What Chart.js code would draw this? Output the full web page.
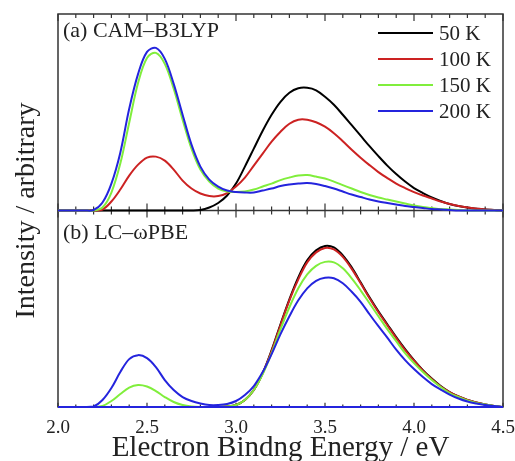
<!DOCTYPE html>
<html>
<head>
<meta charset="utf-8">
<script src="https://cdn.jsdelivr.net/npm/chart.js@4"></script>
<style>
  html, body { margin: 0; padding: 0; background: #fff; }
</style>
</head>
<body>
<canvas id="chart" width="515" height="461"></canvas>
<script>
// binding energy grid (eV)
const energy = [
  2.00, 2.05, 2.10, 2.15, 2.20, 2.25, 2.30, 2.35, 2.40, 2.45,
  2.50, 2.55, 2.60, 2.65, 2.70, 2.75, 2.80, 2.85, 2.90, 2.95,
  3.00, 3.05, 3.10, 3.15, 3.20, 3.25, 3.30, 3.35, 3.40, 3.45,
  3.50, 3.55, 3.60, 3.65, 3.70, 3.75, 3.80, 3.85, 3.90, 3.95,
  4.00, 4.05, 4.10, 4.15, 4.20, 4.25, 4.30, 4.35, 4.40, 4.45, 4.50
];

const temps = ["50 K", "100 K", "150 K", "200 K"];
const colors = ["#000000", "#cc2222", "#80ee3c", "#2424dd"];

// (a) CAM-B3LYP
const camK50 = [
  0, 0, 0, 0, 0, 0, 0, 0, 0, 0,
  0, 0, 0, 0, 0, 0, 0.5, 3, 7.5, 15,
  27, 44, 62, 80, 96, 109, 118, 122.5, 123, 120.5,
  114, 106, 96, 85.5, 75, 64.5, 54.5, 45, 36.5, 29,
  22.5, 17.5, 13, 9.5, 6.5, 4.5, 3, 1.8, 1, 0.4, 0
];
const camK100 = [
  0, 0, 0, 0, 0, 1, 9, 21, 35, 46,
  53, 54, 50, 41, 30, 22, 17, 14.5, 14.5, 17.5,
  24, 33, 45, 57, 69, 79, 87, 91, 91, 88.5,
  84, 77.5, 69.5, 61, 53, 45.5, 38.5, 32.5, 27, 22.5,
  18.5, 15, 12, 9, 6.5, 4.5, 3, 2, 1, 0.5, 0
];
const camK150 = [
  0, 0, 0, 0, 0, 3, 18, 47, 88, 128,
  153, 158, 147, 122, 91, 62, 41, 29, 22, 19,
  18.5, 19, 21, 24, 27, 30.5, 33, 35, 35.5, 34,
  32, 29, 25.5, 22, 18.5, 15.5, 13, 11, 9, 7,
  5, 3.5, 2.5, 1.5, 1, 0.5, 0, 0, 0, 0, 0
];
const camK200 = [
  0, 0, 0, 0, 0.5, 8, 27, 58, 102, 137,
  159, 163, 152, 127, 96, 66, 44, 31, 24, 20,
  18.5, 18, 18, 20, 22, 24.5, 26, 27, 27.5, 26.5,
  24.5, 22, 19, 16, 13.5, 11, 9, 7.5, 6, 4.5,
  3.5, 2.5, 1.5, 1, 0.5, 0, 0, 0, 0, 0, 0
];

// (b) LC-wPBE
const lcK50 = [
  0, 0, 0, 0, 0, 0, 0, 0, 0, 0,
  0, 0, 0, 0, 0, 0, 0, 0, 0, 0.5,
  2, 7, 17, 34, 57, 83, 108, 130, 147, 157,
  161.5, 160, 152, 140, 125, 110, 96, 83, 70, 58,
  47, 37, 28.5, 21, 15, 10.5, 7, 4.5, 2.5, 1, 0
];
const lcK100 = [
  0, 0, 0, 0, 0, 0, 0, 0, 0, 0,
  0, 0, 0, 0, 0, 0, 0, 0, 0, 0.5,
  2, 7, 17, 34, 56, 82, 107, 128, 145, 155,
  159.5, 158, 150.5, 138.5, 124, 109, 95, 82, 69, 57,
  46.5, 36.5, 28, 20.5, 15, 10.5, 7, 4.5, 2.5, 1, 0
];
const lcK150 = [
  0, 0, 0, 0, 0, 1, 6, 13, 19.5, 22,
  20.5, 16, 10, 5, 2, 0.5, 0, 0, 0, 0.5,
  2, 7, 17, 33, 54, 78, 100, 119, 133, 141.5,
  145.5, 145, 139, 129, 117, 104, 91, 78, 66, 54,
  44, 35, 27, 20, 14, 10, 6.5, 4, 2.5, 1, 0
];
const lcK200 = [
  0, 0, 0, 0, 0.5, 7, 19, 35, 48, 52,
  49, 40, 27, 17, 10, 6, 3.5, 2, 2, 3,
  6, 12, 21, 35, 53, 73, 91, 107, 119, 126.5,
  129.5, 129, 124, 115.5, 105.5, 93, 81, 69.5, 57.5, 47,
  38, 30, 23, 17.5, 12.5, 8.5, 5.5, 3.5, 2, 1, 0
];

const xMajorTicks = [2.0, 2.5, 3.0, 3.5, 4.0, 4.5];
const xMinorTicks = [2.1, 2.2, 2.3, 2.4, 2.6, 2.7, 2.8, 2.9, 3.1, 3.2, 3.3, 3.4,
                     3.6, 3.7, 3.8, 3.9, 4.1, 4.2, 4.3, 4.4];

const panelA = [camK50, camK100, camK150, camK200];
const panelB = [lcK50, lcK100, lcK150, lcK200];

const FONT = "'Liberation Serif', 'DejaVu Serif', serif";

const toPoints = (vals) => vals.map((v, i) => ({ x: energy[i], y: v }));

const datasets = [];
[panelA, panelB].forEach((panel, p) => {
    panel.forEach((vals, i) => {
        datasets.push({
            label: temps[i],
            data: toPoints(vals),
            yAxisID: p === 0 ? "ya" : "yb",
            borderColor: colors[i],
            backgroundColor: colors[i],
            borderWidth: 2,
            pointRadius: 0,
            fill: false,
            tension: 0.35,
            clip: 4,
            order: 3 - i // blue on top, black underneath
        });
    });
});

// frame, inward ticks, middle divider, labels
const framePlugin = {
    id: "frame",
    beforeDatasetsDraw(chart) {
        const { ctx, chartArea: a, scales } = chart;
        const mid = scales.ya.bottom;
        ctx.save();
        ctx.strokeStyle = "#333";
        ctx.lineWidth = 1.5;
        ctx.strokeRect(a.left, a.top, a.right - a.left, a.bottom - a.top);
        ctx.beginPath();
        ctx.moveTo(a.left, mid);
        ctx.lineTo(a.right, mid);
        ctx.stroke();

        ctx.lineWidth = 1.2;
        const tick = (v, len) => {
            const px = scales.x.getPixelForValue(v);
            ctx.beginPath();
            ctx.moveTo(px, a.top); ctx.lineTo(px, a.top + len);
            ctx.moveTo(px, mid - len); ctx.lineTo(px, mid + len);
            ctx.moveTo(px, a.bottom); ctx.lineTo(px, a.bottom - len * 0.6);
            ctx.stroke();
        };
        xMajorTicks.forEach(v => tick(v, 7));
        xMinorTicks.forEach(v => tick(v, 4));
        ctx.restore();
    },
    afterDatasetsDraw(chart) {
        // bottom axis line shows in the 200 K colour in the original
        const { ctx, chartArea: a } = chart;
        ctx.save();
        ctx.strokeStyle = colors[3];
        ctx.lineWidth = 2;
        ctx.beginPath();
        ctx.moveTo(a.left, a.bottom);
        ctx.lineTo(a.right, a.bottom);
        ctx.stroke();
        ctx.restore();
    },
    afterDraw(chart) {
        const { ctx, chartArea: a, scales } = chart;
        ctx.save();
        ctx.fillStyle = "#222";

        // panel labels
        ctx.font = "22px " + FONT;
        ctx.textAlign = "left";
        ctx.textBaseline = "alphabetic";
        ctx.fillText("(a) CAM\u2013B3LYP", a.left + 5, a.top + 23);
        ctx.fillText("(b) LC\u2013\u03c9PBE", a.left + 5, scales.yb.top + 28);

        // legend
        ctx.font = "21px " + FONT;
        ctx.textBaseline = "middle";
        temps.forEach((t, i) => {
            const y = 33 + i * 26;
            ctx.strokeStyle = colors[i];
            ctx.lineWidth = 2;
            ctx.beginPath();
            ctx.moveTo(378, y);
            ctx.lineTo(433, y);
            ctx.stroke();
            ctx.fillText(t, 439, y + 1);
        });

        // y title
        ctx.translate(27, (a.top + a.bottom) / 2);
        ctx.rotate(-Math.PI / 2);
        ctx.textAlign = "center";
        ctx.textBaseline = "middle";
        ctx.font = "28px " + FONT;
        ctx.fillText("Intensity / arbitrary", 0, 0);
        ctx.restore();
    }
};

const hiddenY = {
    type: "linear",
    stack: "panels",
    stackWeight: 1,
    min: 0,
    max: 197,
    ticks: { display: false },
    grid: { display: false, drawTicks: false },
    border: { display: false }
};

new Chart(document.getElementById("chart"), {
    type: "line",
    data: { datasets },
    options: {
        responsive: false,
        animation: false,
        layout: { padding: { left: 58, right: 12, top: 14, bottom: 0 } },
        plugins: {
            legend: { display: false },
            tooltip: { enabled: false }
        },
        scales: {
            x: {
                type: "linear",
                min: 2.0,
                max: 4.5,
                afterBuildTicks: s => { s.ticks = xMajorTicks.map(v => ({ value: v })); },
                afterFit: s => {
                    s.height = 54;
                    // let the last label hang past the frame like the original
                    s.paddingLeft = 0;
                    s.paddingRight = 0;
                },
                ticks: {
                    padding: 10,
                    color: "#222",
                    font: { family: FONT, size: 19 },
                    callback: v => v.toFixed(1),
                    maxRotation: 0
                },
                grid: { display: false, drawTicks: false },
                border: { display: false },
                title: {
                    display: true,
                    text: "Electron Bindng Energy / eV",
                    color: "#222",
                    font: { family: FONT, size: 29 },
                    padding: { top: 0, bottom: -5 }
                }
            },
            yb: { ...hiddenY, position: "left" },
            ya: { ...hiddenY, position: "left" }
        }
    },
    plugins: [framePlugin]
});
</script>
</body>
</html>
